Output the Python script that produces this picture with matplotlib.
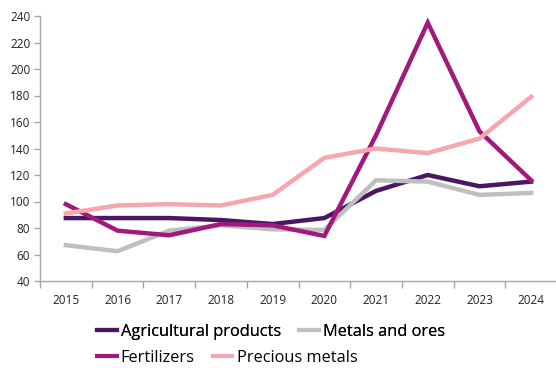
import matplotlib
matplotlib.use("Agg")
import matplotlib.pyplot as plt
from matplotlib.lines import Line2D

plt.rcParams["font.family"] = ["Open Sans", "DejaVu Sans"]

years = ["2015", "2016", "2017", "2018", "2019", "2020", "2021", "2022", "2023", "2024"]
agricultural = [87.5, 87.5, 87.5, 86, 83, 87.5, 108, 120, 111.5, 115]
metals_ores = [67, 62.5, 78, 82, 79, 78.5, 116, 115, 105, 106.5]
fertilizers = [98, 78, 74.5, 83, 82, 74, 150, 235, 153, 116]
precious = [91, 97, 98, 97, 105, 133, 140, 136.5, 147.5, 179]

names = ["Agricultural products", "Metals and ores", "Fertilizers", "Precious metals"]
colors = ["#4a1763", "#bfbfbf", "#a2197e", "#f4a7ae"]
series = [agricultural, metals_ores, fertilizers, precious]

fig = plt.figure(figsize=(5.56, 3.68), dpi=100)
ax = fig.add_axes([40 / 556, 1 - 281 / 368, 517 / 556, 265 / 368])

x = list(range(len(years)))
# gray first so the others sit on top of it
order = [1, 0, 3, 2]
for i in order:
    ax.plot(x, series[i], color=colors[i], lw=3.2, solid_joinstyle="miter", zorder=2 + i)

ax.set_xlim(-0.5, len(years) - 0.5)
ax.set_ylim(40, 240)
ax.set_yticks(range(40, 241, 20))
ax.set_xticks([i - 0.5 for i in range(len(years) + 1)])
ax.set_xticklabels([])
ax.set_xticks(x, minor=True)
ax.set_xticklabels(years, minor=True)
ax.tick_params(axis="x", which="minor", length=0, pad=9, labelsize=8.5, labelcolor="#222222")
ax.tick_params(axis="x", which="major", length=5, color="#a6a6a6", width=1)
ax.tick_params(axis="y", length=4, color="#a6a6a6", width=1, labelsize=8.5,
               labelcolor="#222222", pad=3)
for s in ["top", "right"]:
    ax.spines[s].set_visible(False)
for s in ["left", "bottom"]:
    ax.spines[s].set_color("#a6a6a6")
    ax.spines[s].set_linewidth(1)

def handle(c):
    return Line2D([], [], color=c, lw=3)

leg_kw = dict(frameon=False, fontsize=11.8, handlelength=1.2, handletextpad=0.25,
              columnspacing=1.1, borderaxespad=0, borderpad=0, ncol=2, loc="upper left")
leg1 = fig.legend([handle(colors[0]), handle(colors[1])], names[:2],
                  bbox_to_anchor=(97 / 556, 1 - 324 / 368), **leg_kw)
fig.add_artist(leg1)
fig.legend([handle(colors[2]), handle(colors[3])], names[2:],
           bbox_to_anchor=(97 / 556, 1 - 350 / 368), **leg_kw)

fig.savefig("out.png", dpi=100)
